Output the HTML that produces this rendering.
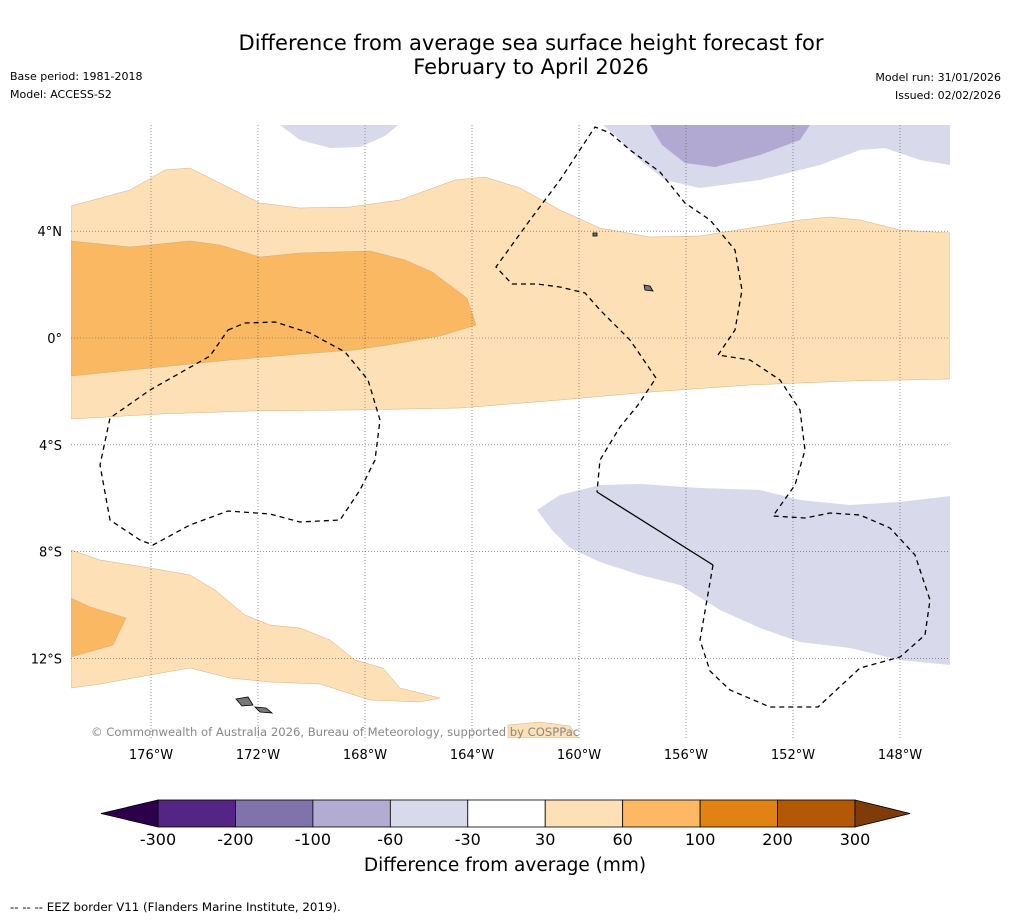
<!DOCTYPE html>
<html><head><meta charset="utf-8"><style>
body{margin:0;background:#fff;font-family:"DejaVu Sans",sans-serif;}
svg text{font-family:"DejaVu Sans",sans-serif;}
</style></head><body>
<svg width="1011" height="919" viewBox="0 0 1011 919">
<text x="531" y="50" text-anchor="middle" font-size="21">Difference from average sea surface height forecast for</text>
<text x="531" y="74" text-anchor="middle" font-size="21">February to April 2026</text>
<text x="10" y="80" font-size="11">Base period: 1981-2018</text>
<text x="10" y="98" font-size="11">Model: ACCESS-S2</text>
<text x="1001" y="81" font-size="11" text-anchor="end">Model run: 31/01/2026</text>
<text x="1001" y="99" font-size="11" text-anchor="end">Issued: 02/02/2026</text>
<g>
<defs><clipPath id="mc"><rect x="71" y="125" width="879" height="613"/></clipPath></defs>
<g clip-path="url(#mc)" stroke="#c9a070" stroke-width="0.4">
<path fill="#fde0b6" d="M71,206 L130,190 165,170 190,168 220,183 260,203 300,208 350,207 400,200 455,180 485,177 520,188 560,210 600,228 650,237 700,236 750,228 800,220 830,217 860,220 900,230 950,233 950,379 850,381 750,385 650,392 560,400 460,408 350,410 250,411 160,414 71,419Z"/>
<path fill="#fbb862" d="M71,241 L130,247 190,241 220,245 260,257 300,253 370,251 405,260 432,272 467,298 476,325 440,336 400,343 355,350 300,354 230,360 170,366 71,376Z"/>
<path fill="#fde0b6" d="M71,550 L100,560 150,568 190,575 215,590 245,615 270,625 300,628 330,640 355,660 383,668 400,688 440,698 420,702 370,700 320,684 270,682 230,678 190,668 150,675 100,684 71,688Z"/>
<path fill="#fbb862" d="M71,598 L90,607 126,618 113,645 71,657Z"/>
<path fill="#fde0b6" d="M508,725 L540,722 570,726 578,738 508,738Z"/>
<g stroke="none">
<path fill="#d8d9ea" d="M280,125 L300,140 330,148 360,147 385,136 398,125Z"/>
<path fill="#d8d9ea" d="M603,125 L620,140 640,160 665,180 700,188 760,180 820,165 860,150 885,148 920,160 950,165 950,125Z"/>
<path fill="#b1a9d1" d="M650,125 L662,145 685,163 715,167 760,155 800,140 810,125Z"/>
<path fill="#d8d9ea" d="M537,510 L560,495 600,485 640,484 700,488 760,490 800,500 850,505 900,502 950,496 950,665 900,660 850,648 800,642 760,628 720,610 680,585 640,575 600,562 570,548 552,530Z"/>
</g>
</g>
<g id="grid" stroke="#555" stroke-width="0.6" stroke-dasharray="1,2"></g>
<g fill="none" stroke="#000" stroke-width="1.3">
<path stroke-dasharray="5,4" d="M228,330 L245,323 275,322 310,333 345,352 368,380 380,420 375,460 360,490 340,520 300,522 270,514 228,511 190,525 153,545 140,540 110,520 100,465 110,418 150,390 210,356Z"/>
<path stroke-dasharray="5,4" d="M713,565 L700,640 710,671 730,690 770,707 818,707 860,668 900,657 925,635 930,600 915,555 890,528 860,515 830,513 805,518 773,516 795,485 805,450 800,410 780,380 750,360 718,355 735,330 742,290 735,250 710,220 685,203 660,172 630,150 610,133 595,127 560,180 530,220 496,267 512,284 537,284 560,287 585,293 600,310 630,340 656,378 638,405 620,427 600,460 597,492"/>
<path d="M597,492 L713,565"/>
</g>
<g fill="#777" stroke="#000" stroke-width="0.8">
<path d="M236,699 L248,697 253,705 242,706Z"/><path d="M255,707 L266,708 272,713 260,712Z"/>
<path d="M644,285 L650,286 653,291 645,290Z"/><rect x="593" y="233" width="4" height="3"/>
</g>
<text x="91" y="736" font-size="11.6" fill="#888">© Commonwealth of Australia 2026, Bureau of Meteorology, supported by COSPPac</text>
<g id="xt" font-size="13" text-anchor="middle"></g>
<g id="yt" font-size="13" text-anchor="end"></g>
</g>
<g id="cbar"></g>
<text x="505" y="871" text-anchor="middle" font-size="18.5">Difference from average (mm)</text>
<text x="10" y="911" font-size="11.8">--  --  -- EEZ border V11 (Flanders Marine Institute, 2019).</text>
</svg>
<script>
const lonTicks=[-176,-172,-168,-164,-160,-156,-152,-148];
const latTicks=[4,0,-4,-8,-12];
const binLabels=["-300","-200","-100","-60","-30","30","60","100","200","300"];
const binColors=["#552586","#8073ac","#b2abd2","#d8daeb","#ffffff","#fee0b6","#fdb863","#e08214","#b35806"];
const extendColors=["#2d004b","#7f3b08"];
const NS="http://www.w3.org/2000/svg";
const xS=lon=>151+(lon+176)*26.75;
const yS=lat=>338-lat*26.7;
function mk(t,a,p){const e=document.createElementNS(NS,t);for(const k in a)e.setAttribute(k,a[k]);p.appendChild(e);return e;}
const grid=document.getElementById('grid'),xt=document.getElementById('xt'),yt=document.getElementById('yt');
lonTicks.forEach(l=>{const x=xS(l);
const g=mk('line',{x1:x,x2:x,y1:125,y2:738},grid);


const t=mk('text',{x:x,y:759},xt);t.textContent=Math.abs(l)+'°W';

});
latTicks.forEach(l=>{const y=yS(l);
const g=mk('line',{x1:71,x2:950,y1:y,y2:y},grid);


const t=mk('text',{x:62,y:y+5},yt);t.textContent=l===0?'0°':Math.abs(l)+'°'+(l>0?'N':'S');

});
const cb=document.getElementById('cbar');const x0=158,x1=855,w=(x1-x0)/binColors.length,y0=800,h=27;
binColors.forEach((c,i)=>{const r=mk('rect',{x:x0+i*w,y:y0,width:w,height:h,fill:c,stroke:'#000','stroke-width':0.8},cb);

});
const tl=mk('polygon',{points:`${x0},${y0} ${x0},${y0+h} 101,${y0+h/2}`,fill:extendColors[0],stroke:'#000','stroke-width':0.8},cb);


const tr=mk('polygon',{points:`${x1},${y0} ${x1},${y0+h} 910,${y0+h/2}`,fill:extendColors[1],stroke:'#000','stroke-width':0.8},cb);


binLabels.forEach((s,i)=>{const t=mk('text',{x:x0+i*w,y:845,'text-anchor':'middle','font-size':16},cb);t.textContent=s;

});
</script>
</body></html>
